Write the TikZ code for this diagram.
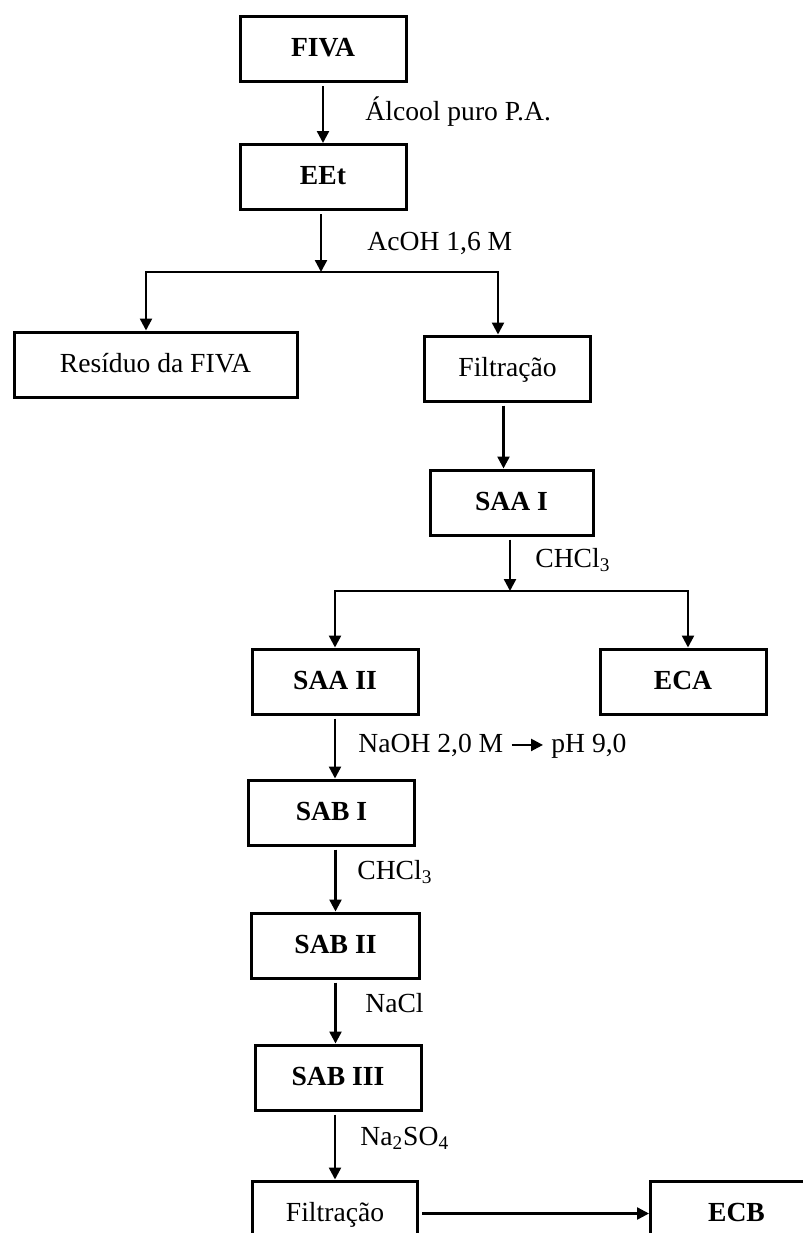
\documentclass[tikz,border=0pt]{standalone}
\usepackage{fontspec}
\setmainfont{Liberation Serif}
\usetikzlibrary{arrows.meta,positioning}

\begin{document}
\begin{tikzpicture}[x=0.5pt,y=-0.5pt]
  % Estilos
  \tikzstyle{etapa}=[draw, rectangle, line width=1.5pt, minimum width=83pt, inner ysep=0pt, text height=20pt, text depth=12.5pt, text centered, font=\fontsize{13.8}{16}\selectfont\bfseries]
  \tikzstyle{etapa_fina}=[etapa, font=\fontsize{13.8}{16}\selectfont]
  \tikzstyle{reagente}=[anchor=base west, inner sep=0pt, font=\fontsize{13.8}{16}\selectfont]
  \tikzstyle{seta}=[-{Triangle[length=6pt,width=6pt]}, line width=1.2pt, shorten <=1.5pt]

  \path[use as bounding box] (0,0) rectangle (803,1233);
  \clip (0,0) rectangle (803,1233);

  % Nós
  \node[etapa] (fiva) at (323,49) {FIVA};
  \node[etapa, below=30pt of fiva] (eet) {EEt};
  \node[etapa_fina, minimum width=141.5pt] (residuo) at (155.5,364.5) {Resíduo da FIVA};
  \node[etapa_fina] (filtra) at (507.5,368.5) {Filtração};
  \node[etapa, minimum width=81.5pt, below=33pt of filtra, xshift=2pt] (saa1) {SAA I};
  \node[etapa] (saa2) at (335,681.5) {SAA II};
  \node[etapa, right=89.5pt of saa2] (eca) {ECA};
  \node[etapa, below=31.5pt of saa2, xshift=-1.75pt] (sab1) {SAB I};
  \node[etapa, minimum width=84pt, below=32.5pt of sab1, xshift=2pt] (sab2) {SAB II};
  \node[etapa, below=32pt of sab2, xshift=1.25pt] (sab3) {SAB III};
  \node[etapa_fina, minimum width=82.5pt, below=34pt of sab3, xshift=-1.5pt] (filtb) {Filtração};
  \node[etapa, minimum width=86pt, right=115pt of filtb] (ecb) {ECB};

  \node[reagente] (alcool) at (365,120) {Álcool puro P.A.};
  \node[reagente] (acoh) at (367,250) {AcOH 1,6 M};
  \node[reagente] (chcl1) at (535,567) {CHCl\textsubscript{3}};
  \node[reagente] (naoh) at (358,752) {NaOH 2,0 M};
  \node[reagente] (ph) at (551,752) {pH 9,0};
  \node[reagente] (chcl2) at (357,879) {CHCl\textsubscript{3}};
  \node[reagente] (nacl) at (365,1012) {NaCl};
  \node[reagente] (na2so4) at (360,1145) {Na\textsubscript{2}SO\textsubscript{4}};

  \coordinate (div1) at (321,272);
  \coordinate (div1e) at (146,272);
  \coordinate (div1d) at (498,272);
  \coordinate (div2) at (510,591);
  \coordinate (div2e) at (335,591);
  \coordinate (div2d) at (688,591);

  % Setas
  \draw[seta] (fiva.south) -- (fiva.south |- eet.north);
  \draw[seta] (eet.south -| div1) -- (div1);
  \draw[seta] (div1d) -- (div1e) -- (div1e |- residuo.north);
  \draw[seta] (div1e) -- (div1d) -- (div1d |- filtra.north);
  \draw[seta] ([xshift=-2pt]filtra.south) -- ([xshift=-2pt]filtra.south |- saa1.north);
  \draw[seta] (saa1.south -| div2) -- (div2);
  \draw[seta] (div2d) -- (div2e) -- (div2e |- saa2.north);
  \draw[seta] (div2e) -- (div2d) -- (div2d |- eca.north);
  \draw[seta] (saa2.south) -- (saa2.south |- sab1.north);
  \draw[seta] (sab2.north |- sab1.south) -- (sab2.north);
  \draw[seta] (sab2.south) -- (sab2.south |- sab3.north);
  \draw[seta] (filtb.north |- sab3.south) -- (filtb.north);
  \draw[seta] (filtb.east) -- (filtb.east -| ecb.west);
  \draw[seta, shorten <=4pt, shorten >=4pt] (naoh.east) -- (ph.west |- naoh.east);
\end{tikzpicture}
\end{document}
